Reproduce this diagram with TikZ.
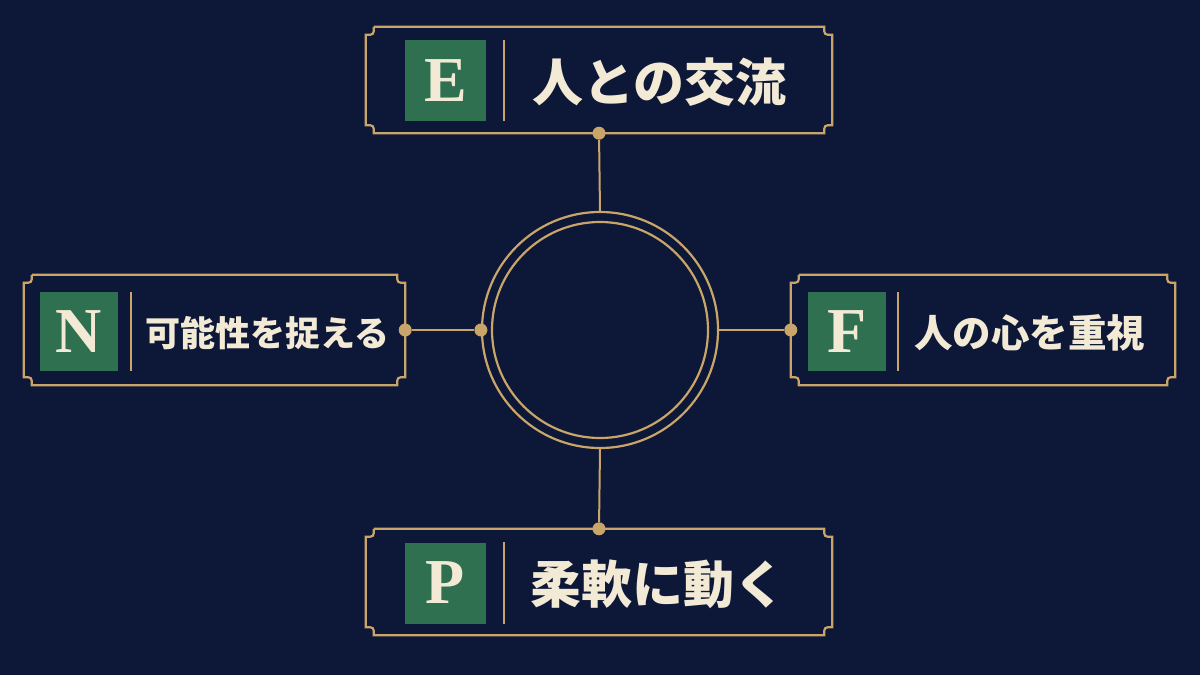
\documentclass[tikz,border=0pt]{standalone}
\usepackage{fontspec}
\newfontfamily\cjk{Noto Sans CJK JP}
\newfontfamily\letterfont{Liberation Serif}
\usetikzlibrary{calc,positioning}
\definecolor{navy}{HTML}{0D1737}
\definecolor{gold}{HTML}{C9A56A}
\definecolor{jade}{HTML}{2E7050}
\definecolor{cream}{HTML}{F3EAD6}

\tikzset{
  panel/.style={rectangle, inner sep=0pt, minimum height=106pt},
  badge/.style={rectangle, fill=jade, inner sep=0pt, minimum size=81pt,
    text=cream, font=\letterfont\bfseries\fontsize{64}{64}\selectfont},
  label/.style={text=cream, inner sep=0pt, anchor=west},
  dot/.style={circle, fill=gold, inner sep=0pt, minimum size=13pt},
  link/.style={gold, line width=2pt}
}
% notched frame round a named node
\newcommand{\notchframe}[1]{%
  \draw[gold, line width=2.2pt]
    ($(#1.north west)+(8,0)$) -- ($(#1.north east)+(-8,0)$)
    .. controls ($(#1.north east)+(-8,8)$) .. ($(#1.north east)+(0,8)$)
    -- ($(#1.south east)+(0,-8)$)
    .. controls ($(#1.south east)+(-8,-8)$) .. ($(#1.south east)+(-8,0)$)
    -- ($(#1.south west)+(8,0)$)
    .. controls ($(#1.south west)+(8,-8)$) .. ($(#1.south west)+(0,-8)$)
    -- ($(#1.north west)+(0,8)$)
    .. controls ($(#1.north west)+(8,8)$) .. ($(#1.north west)+(8,0)$);}

\begin{document}
\begin{tikzpicture}[x=1pt,y=-1pt]
  \fill[navy] (0,0) rectangle (1200,675);
  \useasboundingbox (0,0) rectangle (1200,675);

  % panels
  \node[panel, minimum width=466pt] (ebox) at (599,80) {};
  \node[panel, minimum width=466pt] (pbox) at (599,582) {};
  \node[panel, minimum width=381pt, minimum height=110pt] (nbox) at (214.5,330) {};
  \node[panel, minimum width=384pt, minimum height=110pt] (fbox) at (983,330) {};
  \foreach \b in {ebox,pbox,nbox,fbox} \notchframe{\b};

  % badges and dividers
  \node[badge] (e) at (445.5,80.5) {E};
  \node[badge] (p) at (445.5,583) {P};
  \node[badge, minimum width=78pt, minimum height=79pt] (n) at (79,331.5) {N};
  \node[badge, minimum width=78pt, minimum height=79pt] (f) at (847,331.5) {F};
  \draw[link] ($(e.north east)+(18,0)$) -- ($(e.south east)+(18,0)$);
  \draw[link] ($(p.north east)+(18,0)$) -- ($(p.south east)+(18,0)$);
  \draw[link] ($(n.north east)+(13,0)$) -- ($(n.south east)+(13,0)$);
  \draw[link] ($(f.north east)+(12,0)$) -- ($(f.south east)+(12,0)$);

  % texts
  \node[label, font=\cjk\bfseries\fontsize{51}{51}\selectfont] (et) at (532,82) {人との交流};
  \node[label, font=\cjk\bfseries\fontsize{51}{51}\selectfont] (pt) at (530,584) {柔軟に動く};
  \node[label, font=\cjk\bfseries\fontsize{35}{35}\selectfont] (nt) at (145,333) {可能性を捉える};
  \node[label, font=\cjk\bfseries\fontsize{38.5}{38.5}\selectfont] (ft) at (914,333) {人の心を重視};

  % centre rings
  \node[circle, draw=gold, line width=2.2pt, minimum size=236pt, inner sep=0pt] (hub) at (600,330) {};
  \draw[gold, line width=2.2pt] (hub.center) circle[radius=108];

  % dots and links
  \node[dot] (de) at (ebox.south) {};
  \node[dot] (dp) at (pbox.north) {};
  \node[dot] (dn) at (nbox.east) {};
  \node[dot] (df) at (fbox.west) {};
  \node[dot] (dh) at (hub.west) {};
  \draw[link] (de) -- (hub.north);
  \draw[link] (dp) -- (hub.south);
  \draw[link] (dn) -- (dh);
  \draw[link] (df) -- (hub.east);
\end{tikzpicture}
\end{document}
